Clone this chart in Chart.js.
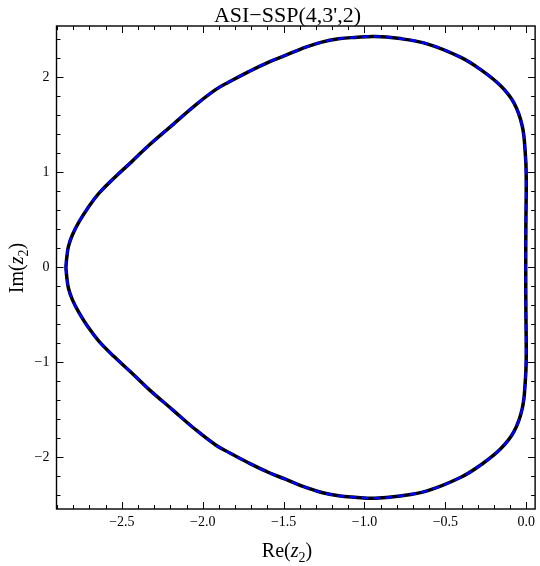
<!DOCTYPE html>
<html>
<head>
<meta charset="utf-8">
<script src="https://cdn.jsdelivr.net/npm/chart.js@4"></script>
<style>
  html, body { margin: 0; padding: 0; background: #fff; }
  #wrap { width: 540px; height: 566px; position: relative; }
</style>
</head>
<body>
<div id="wrap"><canvas id="myChart"></canvas></div>
<script>

// boundary of the stability region (upper arc then lower arc)
var reValues = [
  -2.846, -2.840, -2.830, -2.806, -2.764, -2.712, -2.641, -2.548, -2.440, -2.329,
  -2.186, -2.043, -1.920, -1.838, -1.715, -1.592, -1.489, -1.390, -1.264, -1.160,
  -1.059, -0.936, -0.793, -0.608, -0.404, -0.281, -0.158, -0.076, -0.025, -0.006,
  0.000, -0.002, -0.003,
  -0.002, 0.000, -0.006, -0.025, -0.076, -0.158, -0.281, -0.404, -0.608, -0.793,
  -0.936, -1.059, -1.160, -1.264, -1.390, -1.489, -1.592, -1.715, -1.838, -1.920,
  -2.043, -2.186, -2.329, -2.440, -2.548, -2.641, -2.712, -2.764, -2.806, -2.830,
  -2.840, -2.846
];
var imValues = [
  0.00, 0.11, 0.22, 0.34, 0.48, 0.62, 0.78, 0.94, 1.11, 1.29,
  1.50, 1.71, 1.87, 1.95, 2.06, 2.16, 2.23, 2.30, 2.37, 2.405,
  2.42, 2.43, 2.41, 2.35, 2.21, 2.08, 1.91, 1.73, 1.49, 1.21,
  0.96, 0.44, 0.00,
  -0.44, -0.96, -1.21, -1.49, -1.73, -1.91, -2.08, -2.21, -2.35, -2.41,
  -2.43, -2.42, -2.405, -2.37, -2.30, -2.23, -2.16, -2.06, -1.95, -1.87,
  -1.71, -1.50, -1.29, -1.11, -0.94, -0.78, -0.62, -0.48, -0.34, -0.22,
  -0.11, 0.00
];

var xTicks = [-2.5, -2.0, -1.5, -1.0, -0.5, 0.0];
var yTicks = [-2, -1, 0, 1, 2];

var xRange = [-2.904, 0.055];
var yRange = [-2.544, 2.54];

var titleText = "ASI\u2212SSP(4,3',2)";

var serif = "'Liberation Serif', 'DejaVu Serif', serif";

function makePoints() {
  return reValues.map(function(x, i) { return { x: x, y: imValues[i] }; });
}

function minus(v, digits) {
  var s = Math.abs(v).toFixed(digits);
  return (v < 0 ? "\u2212" : "") + s;
}

// label like Re(z2) with italic z and a lowered 2
function drawMathLabel(ctx, pre, cx, baseline) {
  var big = "20px " + serif, bigIt = "italic 20px " + serif, small = "14px " + serif;
  var parts = [
    { t: pre + "(", f: big, dy: 0 },
    { t: "z", f: bigIt, dy: 0 },
    { t: "2", f: small, dy: 5 },
    { t: ")", f: big, dy: 0 }
  ];
  var w = 0;
  parts.forEach(function(p) { ctx.font = p.f; p.w = ctx.measureText(p.t).width; w += p.w; });
  var x = cx - w / 2;
  ctx.textAlign = "left";
  ctx.textBaseline = "alphabetic";
  parts.forEach(function(p) { ctx.font = p.f; ctx.fillText(p.t, x, baseline + p.dy); x += p.w; });
}

var framePlugin = {
  id: "frame",
  afterDraw: function(chart) {
    var ctx = chart.ctx, a = chart.chartArea;
    var xs = chart.scales.x, ys = chart.scales.y;
    ctx.save();
    ctx.strokeStyle = "#000";
    ctx.lineWidth = 1;
    ctx.beginPath();
    // x ticks, inward on bottom and top
    for (var k = -29; k <= 0; k++) {
      var v = k / 10;
      var px = Math.round(xs.getPixelForValue(v)) + 0.5;
      var len = (k % 5 === 0) ? 7 : 4;
      ctx.moveTo(px, a.bottom); ctx.lineTo(px, a.bottom - len);
      ctx.moveTo(px, a.top); ctx.lineTo(px, a.top + len);
    }
    // y ticks, inward on left and right
    for (var j = -12; j <= 12; j++) {
      var w = j / 5;
      var py = Math.round(ys.getPixelForValue(w)) + 0.5;
      var l2 = (j % 5 === 0) ? 7 : 4;
      ctx.moveTo(a.left, py); ctx.lineTo(a.left + l2, py);
      ctx.moveTo(a.right, py); ctx.lineTo(a.right - l2, py);
    }
    ctx.stroke();
    ctx.lineWidth = 1.4;
    ctx.strokeRect(a.left, a.top, a.right - a.left, a.bottom - a.top);

    ctx.fillStyle = "#000";
    ctx.font = "22px " + serif;
    ctx.textAlign = "center";
    ctx.textBaseline = "alphabetic";
    ctx.fillText(titleText, 287.5, 22);

    drawMathLabel(ctx, "Re", 287, 557);

    ctx.translate(23, 268);
    ctx.rotate(-Math.PI / 2);
    drawMathLabel(ctx, "Im", 0, 0);
    ctx.restore();
  }
};

// dataset 0 is painted last, so the blue dashes go first to sit on top
new Chart("myChart", {
  type: "scatter",
  data: {
    datasets: [
      {
        data: makePoints(),
        showLine: true,
        borderColor: "#0000ff",
        borderWidth: 2.4,
        borderDash: [7, 5],
        pointRadius: 0,
        tension: 0.4,
        fill: false
      },
      {
        data: makePoints(),
        showLine: true,
        borderColor: "#000000",
        borderWidth: 3.5,
        pointRadius: 0,
        tension: 0.4,
        fill: false
      }
    ]
  },
  options: {
    responsive: true,
    maintainAspectRatio: false,
    animation: false,
    layout: { padding: { top: 26, right: 2, left: 0, bottom: 0 } },
    plugins: {
      legend: { display: false },
      title: { display: false },
      tooltip: { enabled: false }
    },
    scales: {
      x: {
        type: "linear",
        min: xRange[0],
        max: xRange[1],
        grid: { display: false, drawTicks: false },
        border: { display: false },
        afterBuildTicks: function(scale) {
          scale.ticks = xTicks.map(function(v) { return { value: v }; });
        },
        afterFit: function(scale) { scale.height = 57; },
        ticks: {
          padding: 5,
          color: "#000",
          maxRotation: 0,
          autoSkip: false,
          font: { family: serif, size: 14 },
          callback: function(v) { return minus(v, 1); }
        }
      },
      y: {
        type: "linear",
        min: yRange[0],
        max: yRange[1],
        grid: { display: false, drawTicks: false },
        border: { display: false },
        afterBuildTicks: function(scale) {
          scale.ticks = yTicks.map(function(v) { return { value: v }; });
        },
        afterFit: function(scale) { scale.width = 56.5; },
        ticks: {
          padding: 7,
          color: "#000",
          autoSkip: false,
          font: { family: serif, size: 14 },
          callback: function(v) { return minus(v, 0); }
        }
      }
    }
  },
  plugins: [framePlugin]
});

</script>
</body>
</html>
